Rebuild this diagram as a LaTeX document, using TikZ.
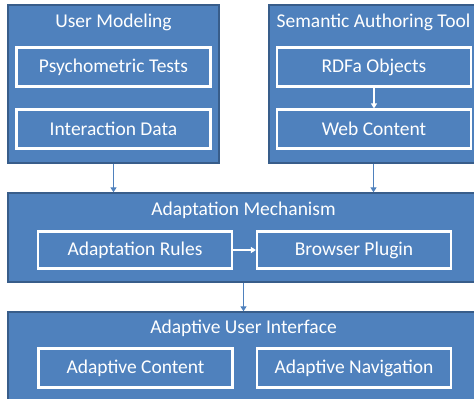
\documentclass[tikz,border=0pt]{standalone}
\usepackage{fontspec}
\setmainfont{Carlito}
\usetikzlibrary{arrows.meta}

\definecolor{boxblue}{HTML}{4F81BD}
\definecolor{edgeblue}{HTML}{385D8A}

\tikzset{
  outerbox/.style={draw=edgeblue, fill=boxblue, line width=1.4pt, inner sep=0pt},
  innerbox/.style={draw=white, fill=boxblue, line width=2.2pt, inner sep=0pt,
    minimum width=194pt, minimum height=39pt, text=white,
    font=\fontsize{19.5}{22}\selectfont},
  boxtitle/.style={text=white, inner sep=0pt, font=\fontsize{19.5}{22}\selectfont},
  bluelink/.style={draw=boxblue, line width=1.8pt, -{Triangle[length=5pt,width=6pt]}},
  whitelink/.style={draw=white, line width=1.8pt, -{Triangle[length=5pt,width=6pt]}}
}

\begin{document}
\begin{tikzpicture}[x=1pt,y=-1pt]
    %\draw[help lines] (0,0) grid (474,399);
    \useasboundingbox (0,0) rectangle (474,399);
    \clip (0,0) rectangle (474,399);
    % outer blocks
    \node[outerbox, minimum width=211pt, minimum height=158pt] (usermod) at (113.5,84) {};
    \node[outerbox, minimum width=209pt, minimum height=158pt] (authoring) at (373.5,84) {};
    \node[outerbox, minimum width=471pt, minimum height=89pt] (mechanism) at (243.5,237.5) {};
    \node[outerbox, minimum width=471pt, minimum height=100pt] (adaptui) at (243.5,362) {};
    % titles
    \node[boxtitle] (usermodtitle) at (113.5,22) {User Modeling};
    \node[boxtitle] (authoringtitle) at (373.5,22) {Semantic Authoring Tool};
    \node[boxtitle] (mechanismtitle) at (243.5,210) {Adaptation Mechanism};
    \node[boxtitle] (adaptuititle) at (243.5,328) {Adaptive User Interface};
    % inner blocks
    \node[innerbox] (psych) at (113.5,67) {Psychometric Tests};
    \node[innerbox] (interact) at (113.5,129) {Interaction Data};
    \node[innerbox] (rdfa) at (374,67) {RDFa Objects};
    \node[innerbox] (webcont) at (374,129) {Web Content};
    \node[innerbox, minimum height=37pt] (rules) at (135,250) {Adaptation Rules};
    \node[innerbox, minimum height=37pt] (plugin) at (354,250) {Browser Plugin};
    \node[innerbox] (content) at (135.5,368) {Adaptive Content};
    \node[innerbox] (navig) at (354,368) {Adaptive Navigation};
    % connectors
    \draw[bluelink] (usermod.south) -- (usermod.south |- mechanism.north);
    \draw[bluelink] (authoring.south) -- (authoring.south |- mechanism.north);
    \draw[bluelink] (mechanism.south) -- (adaptui.north);
    \draw[whitelink] (rdfa.south) -- (webcont.north);
    \draw[whitelink] (rules.east) -- (plugin.west);
\end{tikzpicture}
\end{document}
